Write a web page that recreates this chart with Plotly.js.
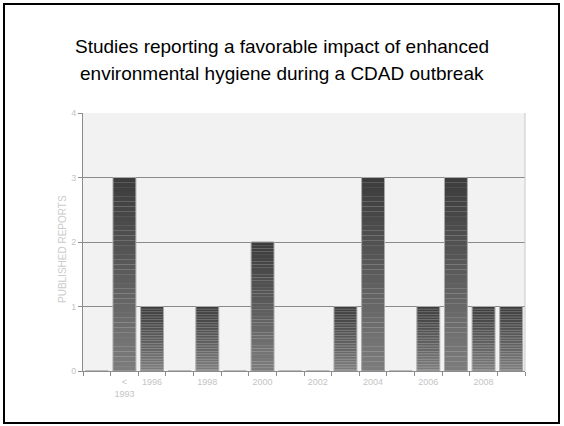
<!DOCTYPE html>
<html>
<head>
<meta charset="utf-8">
<script src="https://cdn.plot.ly/plotly-3.0.1.min.js"></script>
<style>
  html, body { margin: 0; padding: 0; background: #ffffff; }
  #chart { width: 564px; height: 426px; }
</style>
</head>
<body>
<div id="chart"></div>
<script>
// Publication years (one slot per category along the x axis)
const categories = ['', '< 1993', '1996', '1997', '1998', '1999', '2000', '2001',
                    '2002', '2003', '2004', '2005', '2006', '2007', '2008', '2009'];
// Number of published reports per slot
const reports = [0, 3, 1, 0, 1, 0, 2, 0, 0, 1, 3, 0, 1, 3, 1, 1];
// Slots that carry a visible year label, and the text shown there
const labelledSlots = ['< 1993', '1996', '1998', '2000', '2002', '2004', '2006', '2008'];
const labelText = ['<<br>1993', '1996', '1998', '2000', '2002', '2004', '2006', '2008'];
const yTicks = [0, 1, 2, 3, 4];
const titleLines = ['Studies reporting a favorable impact of enhanced',
                    'environmental hygiene during a CDAD outbreak'];
const yTitle = 'PUBLISHED REPORTS';

const W = 564, H = 426;
const M = { l: 83, r: 39, t: 113, b: 55 };
const xs = categories.map((c, i) => i);
const barWidth = 0.83;
const FONT = 'Liberation Sans, Arial, sans-serif';

// Each bar is shaded from dark at the top to mid grey at the bottom by
// layering thin horizontal bands on the same category slot.
const N = 40;
const shadeTop = [60, 60, 60], shadeBottom = [124, 124, 124];
function mix(t) {
  const c = shadeTop.map((v, k) => Math.round(v + (shadeBottom[k] - v) * t));
  return 'rgb(' + c.join(',') + ')';
}
const traces = [];
for (let i = 0; i < N; i++) {
  const t = i / (N - 1);
  traces.push({
    type: 'bar',
    x: xs,
    y: reports.map(v => v / N * 1.02),
    base: reports.map(v => v - v * (i + 1) / N),
    width: barWidth,
    marker: { color: mix(t), line: { width: 0 } },
    hoverinfo: 'skip',
    showlegend: false
  });
}
// Outline of each bar
traces.push({
  type: 'bar',
  x: xs,
  y: reports,
  width: barWidth,
  marker: { color: 'rgba(0,0,0,0)', line: { color: '#a8a8a8', width: 1 } },
  hoverinfo: 'skip',
  showlegend: false
});

const plotW = W - M.l - M.r, plotH = H - M.t - M.b;
const px = v => (v - M.l) / plotW;
const py = v => (H - M.b - v) / plotH;

const annotations = titleLines.map((line, i) => ({
  text: line,
  xref: 'paper', yref: 'paper',
  x: px(282), y: py(46 + i * 27.5),
  xanchor: 'center', yanchor: 'middle',
  showarrow: false,
  font: { family: FONT, size: 19, color: '#000000' }
}));
// Vertical axis caption
annotations.push({
  text: yTitle,
  xref: 'paper', yref: 'paper',
  x: px(62), y: py(249),
  xanchor: 'center', yanchor: 'middle',
  textangle: -90,
  showarrow: false,
  font: { family: FONT, size: 10, color: '#cccccc' }
});

const layout = {
  width: W,
  height: H,
  margin: M,
  paper_bgcolor: '#ffffff',
  plot_bgcolor: '#f2f2f2',
  barmode: 'overlay',
  showlegend: false,
  font: { family: FONT, color: '#000000' },
  annotations: annotations,
  xaxis: {
    range: [-0.5, categories.length - 0.5],
    tickmode: 'array',
    tickvals: labelledSlots.map(l => categories.indexOf(l)),
    ticktext: labelText,
    ticks: '',
    ticklabelstandoff: 2,
    tickfont: { size: 9, color: '#c4c4c4', family: FONT },
    showgrid: false,
    zeroline: false,
    showline: true,
    linecolor: '#8c8c8c',
    linewidth: 1,
    mirror: false,
    minor: { ticks: 'outside', ticklen: 4, tickcolor: '#8c8c8c', tick0: -0.5, dtick: 1, showgrid: false },
    fixedrange: true
  },
  yaxis: {
    range: [0, 4],
    tickmode: 'array',
    tickvals: yTicks,
    ticktext: yTicks.map(String),
    ticks: 'outside',
    ticklen: 4,
    tickcolor: '#8c8c8c',
    tickfont: { size: 9, color: '#c4c4c4', family: FONT },
    showgrid: true,
    gridcolor: '#8a8a8a',
    gridwidth: 1,
    zeroline: false,
    showline: true,
    linecolor: '#8c8c8c',
    linewidth: 1,
    fixedrange: true
  },
  shapes: [
    // Light right edge of the plotting area
    { type: 'line', xref: 'paper', yref: 'paper', x0: 1, x1: 1, y0: 0, y1: 1,
      line: { color: '#c8c8c8', width: 1 } },
    // Slide frame
    { type: 'rect', xref: 'paper', yref: 'paper',
      x0: px(4), x1: px(559), y0: py(423), y1: py(4),
      line: { color: '#000000', width: 2 }, fillcolor: 'rgba(0,0,0,0)', layer: 'above' }
  ]
};

Plotly.newPlot('chart', traces, layout, { staticPlot: true, displayModeBar: false });
</script>
</body>
</html>
